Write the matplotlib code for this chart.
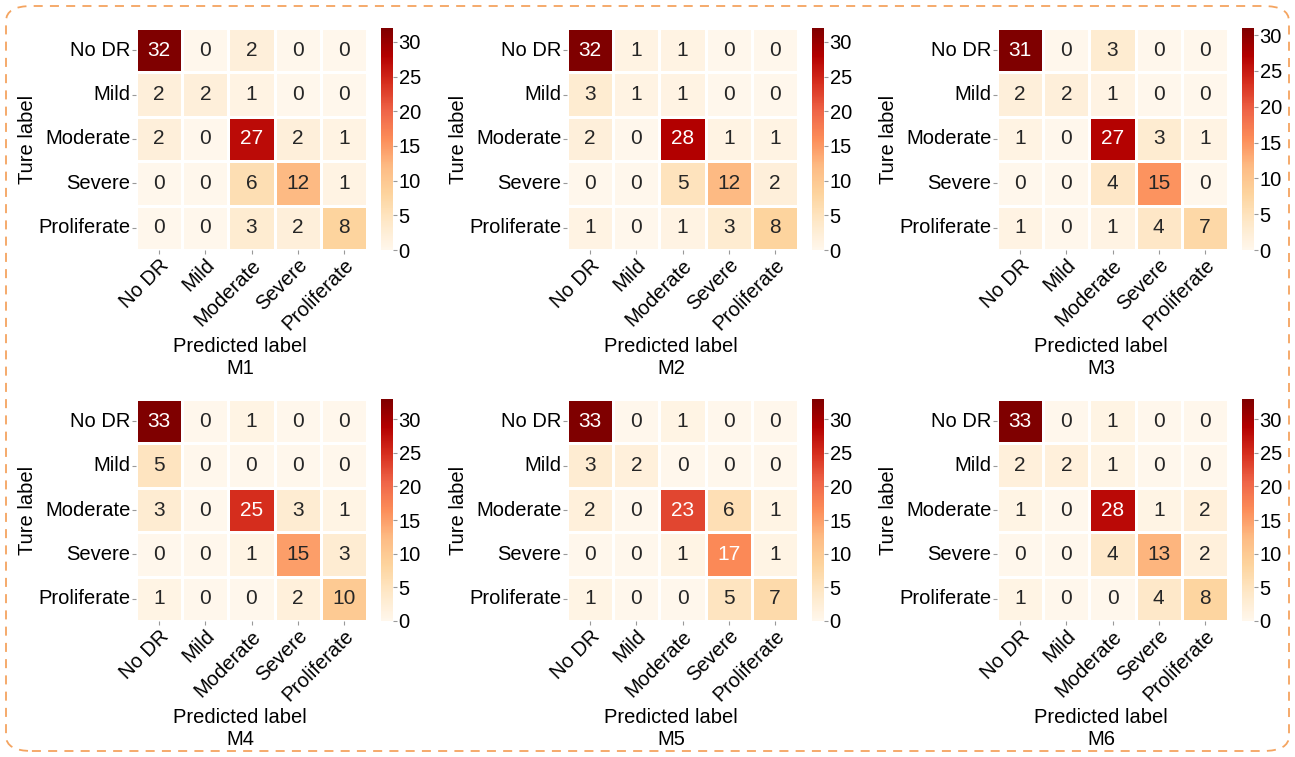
import numpy as np
import matplotlib
matplotlib.use("Agg")
import matplotlib.pyplot as plt
import seaborn as sns
from matplotlib.patches import FancyBboxPatch

plt.rcParams["font.family"] = ["Liberation Sans", "DejaVu Sans"]

classes = ["No DR", "Mild", "Moderate", "Severe", "Proliferate"]
models = ["M1", "M2", "M3", "M4", "M5", "M6"]

cm_m1 = [[32, 0, 2, 0, 0],
         [2, 2, 1, 0, 0],
         [2, 0, 27, 2, 1],
         [0, 0, 6, 12, 1],
         [0, 0, 3, 2, 8]]
cm_m2 = [[32, 1, 1, 0, 0],
         [3, 1, 1, 0, 0],
         [2, 0, 28, 1, 1],
         [0, 0, 5, 12, 2],
         [1, 0, 1, 3, 8]]
cm_m3 = [[31, 0, 3, 0, 0],
         [2, 2, 1, 0, 0],
         [1, 0, 27, 3, 1],
         [0, 0, 4, 15, 0],
         [1, 0, 1, 4, 7]]
cm_m4 = [[33, 0, 1, 0, 0],
         [5, 0, 0, 0, 0],
         [3, 0, 25, 3, 1],
         [0, 0, 1, 15, 3],
         [1, 0, 0, 2, 10]]
cm_m5 = [[33, 0, 1, 0, 0],
         [3, 2, 0, 0, 0],
         [2, 0, 23, 6, 1],
         [0, 0, 1, 17, 1],
         [1, 0, 0, 5, 7]]
cm_m6 = [[33, 0, 1, 0, 0],
         [2, 2, 1, 0, 0],
         [1, 0, 28, 1, 2],
         [0, 0, 4, 13, 2],
         [1, 0, 0, 4, 8]]
matrices = [cm_m1, cm_m2, cm_m3, cm_m4, cm_m5, cm_m6]

W, H = 1295, 757
fig = plt.figure(figsize=(W / 100, H / 100), dpi=100)

# pixel layout of each panel: heatmap left edges, row top/bottom
col_x = [136, 567, 997]
map_w = 231
cbar_gap, cbar_w = 14, 12
rows_y = [(28, 250), (399, 621)]


def px_box(x0, y0, w, h):
    return [x0 / W, 1 - (y0 + h) / H, w / W, h / H]


for i, (name, cm) in enumerate(zip(models, matrices)):
    r, c = divmod(i, 3)
    x0 = col_x[c]
    y0, y1 = rows_y[r]
    ax = fig.add_axes(px_box(x0, y0, map_w, y1 - y0))
    cax = fig.add_axes(px_box(x0 + map_w + cbar_gap, y0, cbar_w, y1 - y0))
    data = np.array(cm)
    sns.heatmap(data, ax=ax, cbar_ax=cax, cmap="OrRd", vmin=0,
                annot=True, fmt="d", annot_kws={"fontsize": 15},
                linewidths=0.8, linecolor="white",
                xticklabels=classes, yticklabels=classes)
    ax.tick_params(axis="both", length=3, width=0.8, color="#999999",
                   labelsize=14.5, pad=1)
    plt.setp(ax.get_xticklabels(), rotation=45, ha="right",
             rotation_mode="anchor")
    plt.setp(ax.get_yticklabels(), rotation=0)
    ax.set_ylabel("Ture label", fontsize=14.5, labelpad=1)
    ax.set_xlabel("Predicted label", fontsize=14.5)
    ax.xaxis.set_label_coords(0.45, -0.39)
    ax.text(0.45, -0.535, name, transform=ax.transAxes, fontsize=14.5,
            ha="center", va="center")
    cax.set_yticks([0, 5, 10, 15, 20, 25, 30])
    cax.tick_params(labelsize=14.5, length=3, width=0.8, color="#999999",
                    pad=1)

# dashed rounded frame around the whole figure
frame = FancyBboxPatch((6 / W, 6 / H), 1 - 12 / W, 1 - 12 / H,
                       boxstyle="round,pad=0,rounding_size=0.02",
                       transform=fig.transFigure, fill=False,
                       edgecolor="#F4A460", linewidth=1.3,
                       linestyle=(0, (5, 4)))
fig.patches.append(frame)

fig.savefig("out.png", dpi=100)
